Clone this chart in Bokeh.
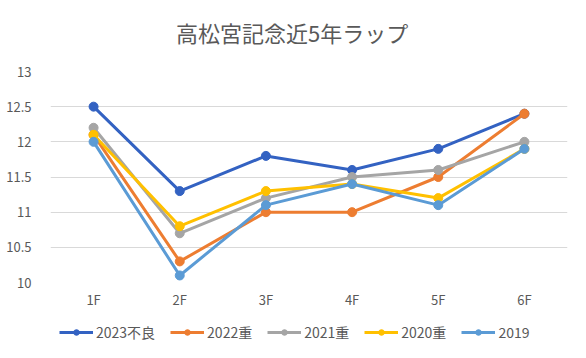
from bokeh.plotting import figure
from bokeh.models import Legend, LegendItem, FixedTicker, Range1d, Div
from bokeh.layouts import column
from bokeh.embed import file_html
from bokeh.resources import INLINE

title_text = "高松宮記念近5年ラップ"
categories = ["1F", "2F", "3F", "4F", "5F", "6F"]
series_names = ["2023不良", "2022重", "2021重", "2020重", "2019"]
s2023 = [12.5, 11.3, 11.8, 11.6, 11.9, 12.4]
s2022 = [12.1, 10.3, 11.0, 11.0, 11.5, 12.4]
s2021 = [12.2, 10.7, 11.2, 11.5, 11.6, 12.0]
s2020 = [12.1, 10.8, 11.3, 11.4, 11.2, 11.9]
s2019 = [12.0, 10.1, 11.1, 11.4, 11.1, 11.9]
y_ticks = [10, 10.5, 11, 11.5, 12, 12.5, 13]
y_tick_labels = ["10", "10.5", "11", "11.5", "12", "12.5", "13"]
colors = ["#3362C2", "#ED7D31", "#A5A5A5", "#FFC000", "#5B9BD5"]
series = [s2023, s2022, s2021, s2020, s2019]

FONT = "Noto Sans CJK JP"
TXT = "#595959"

head = Div(text=('<div style="font-family:\'Noto Sans CJK JP\'; font-size:22px; color:#595959; '
                 'padding-left:176px; padding-top:16px; white-space:nowrap; line-height:32px">'
                 + title_text + '</div>'),
           width=570, height=50, margin=(0, 0, 0, 0))

p = figure(width=570, height=261, x_range=categories, y_range=Range1d(10, 13),
           output_backend="svg", toolbar_location=None,
           min_border_left=50, min_border_right=3, min_border_top=21, min_border_bottom=28)
p.outline_line_color = None
p.background_fill_color = "white"
p.border_fill_color = "white"

p.xgrid.grid_line_color = None
p.ygrid.grid_line_color = "#D9D9D9"
p.ygrid.grid_line_width = 1
p.yaxis.ticker = FixedTicker(ticks=y_ticks)
p.yaxis.major_label_overrides = {t: l for t, l in zip(y_ticks, y_tick_labels)}
for ax in (p.xaxis[0], p.yaxis[0]):
    ax.axis_line_color = None
    ax.major_tick_line_color = None
    ax.minor_tick_line_color = None
    ax.major_label_text_font = FONT
    ax.major_label_text_font_size = "13px"
    ax.major_label_text_color = TXT
p.yaxis.major_label_standoff = 13
p.xaxis.major_label_standoff = 1

for vals, c in zip(series, colors):
    p.line(categories, vals, line_color=c, line_width=3)
    p.scatter(categories, vals, size=9, fill_color=c, line_color=c)

# legend strip: same series drawn outside its visible range, only the legend shows
q = figure(width=570, height=31, x_range=categories, y_range=Range1d(0, 1),
           output_backend="svg", toolbar_location=None,
           min_border_left=0, min_border_right=0, min_border_top=0, min_border_bottom=0)
q.axis.visible = False
q.grid.visible = False
q.outline_line_color = None
q.border_fill_color = "white"
items = []
for name, vals, c in zip(series_names, series, colors):
    r1 = q.line(categories, vals, line_color=c, line_width=3)
    r2 = q.scatter(categories, vals, size=9, fill_color=c, line_color=c)
    items.append(LegendItem(label=name, renderers=[r1, r2]))
legend = Legend(items=items, orientation="horizontal", location=(9, 0),
                label_text_font=FONT, label_text_font_size="14px", label_text_color=TXT,
                glyph_width=34, glyph_height=14, label_standoff=3, spacing=15,
                border_line_color=None, background_fill_alpha=0, margin=0, padding=2)
q.add_layout(legend)

layout = column(head, p, q, spacing=0)
open("out.html", "w").write(file_html(layout, INLINE))
